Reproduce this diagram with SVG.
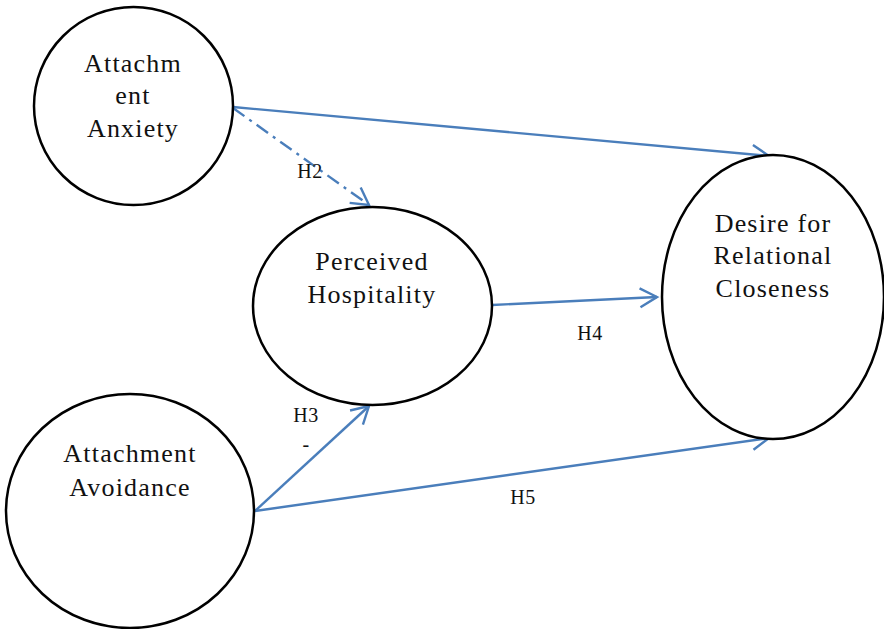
<svg xmlns="http://www.w3.org/2000/svg" width="884" height="629" viewBox="0 0 884 629">
<style>
.node{fill:#fff;stroke:#000;stroke-width:2.5}
.nt{font-family:"Liberation Serif","Times New Roman",serif;font-size:26px;letter-spacing:1.2px;fill:#111;text-anchor:middle}
.lb{font-family:"Liberation Serif","Times New Roman",serif;font-size:20px;letter-spacing:0.5px;fill:#111;text-anchor:middle}
.edge{fill:none;stroke:#4A7EBB;stroke-width:2.4}
.dash{stroke-dasharray:14 6 3 6}
</style>
<defs>
<marker id="ah" markerUnits="userSpaceOnUse" markerWidth="24" markerHeight="24" viewBox="-20 -12 24 24" refX="0" refY="0" orient="auto">
<path d="M-17,-9.5 L0,0 L-17,9.5" fill="none" stroke="#4A7EBB" stroke-width="2.4"/>
</marker>
</defs>
<rect width="884" height="629" fill="#fff"/>
<g id="connectors">
<line class="edge" x1="233" y1="107" x2="769" y2="156" marker-end="url(#ah)"/>
<line class="edge dash" x1="233" y1="108" x2="369" y2="205" marker-end="url(#ah)"/>
<line class="edge" x1="492" y1="305" x2="657" y2="297" marker-end="url(#ah)"/>
<line class="edge" x1="255" y1="511" x2="369" y2="406" marker-end="url(#ah)"/>
<line class="edge" x1="255" y1="511" x2="769" y2="438" marker-end="url(#ah)"/>
<text class="lb" x="310" y="178">H2</text>
<text class="lb" x="306" y="422">H3</text>
<text class="lb" x="306" y="451">-</text>
<text class="lb" x="590" y="340">H4</text>
<text class="lb" x="523" y="504">H5</text>
</g>
<g id="anxiety">
<ellipse class="node" cx="133.5" cy="106" rx="99.5" ry="99"/>
<text class="nt" x="133" y="72">Attachm</text>
<text class="nt" x="133" y="104">ent</text>
<text class="nt" x="133" y="137">Anxiety</text>
</g>
<g id="hospitality">
<ellipse class="node" cx="372.5" cy="306" rx="119.5" ry="99"/>
<text class="nt" x="372" y="270">Perceived</text>
<text class="nt" x="372" y="303">Hospitality</text>
</g>
<g id="closeness">
<ellipse class="node" cx="773" cy="297" rx="111" ry="142"/>
<text class="nt" x="773" y="232">Desire for</text>
<text class="nt" x="773" y="264">Relational</text>
<text class="nt" x="773" y="297">Closeness</text>
</g>
<g id="avoidance">
<ellipse class="node" cx="130" cy="511" rx="124" ry="117"/>
<text class="nt" x="130" y="462">Attachment</text>
<text class="nt" x="130" y="496">Avoidance</text>
</g>
</svg>
